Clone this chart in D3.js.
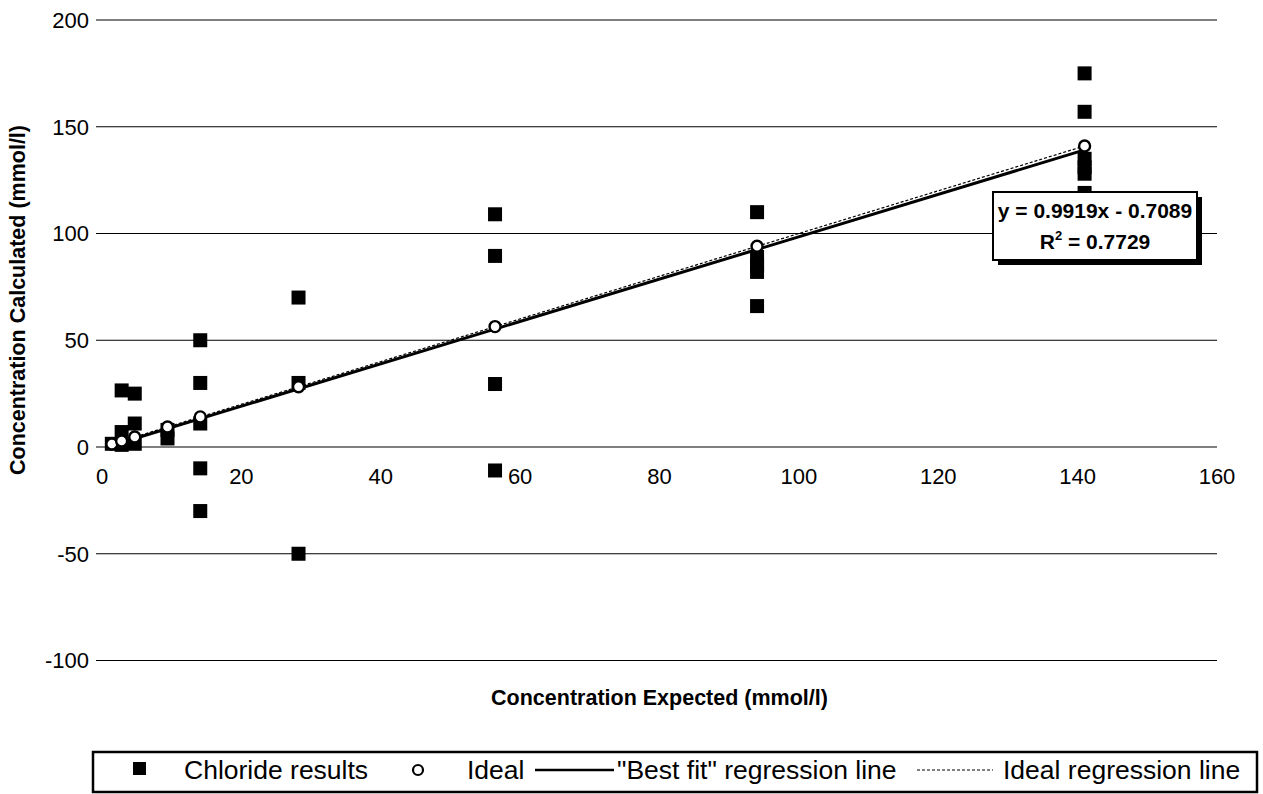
<!DOCTYPE html>
<html>
<head>
<meta charset="utf-8">
<script src="https://cdn.jsdelivr.net/npm/d3@7"></script>
<style>
  body { margin: 0; background: #fff; }
  svg { display: block; }
  text { font-family: "Liberation Sans", Arial, sans-serif; fill: #000; }
</style>
</head>
<body>
<svg id="chart" width="1263" height="794"></svg>
<script>
// Expected chloride concentrations (mmol/l) of the dilution series
const levels = [1.41, 2.82, 4.7, 9.4, 14.1, 28.2, 56.4, 94, 141];

// Measured chloride results: expected (x) and calculated (y)
const chlorideX = [
  1.41,
  2.82, 2.82, 2.82,
  4.7, 4.7, 4.7,
  9.4, 9.4,
  14.1, 14.1, 14.1, 14.1, 14.1,
  28.2, 28.2, 28.2,
  56.4, 56.4, 56.4, 56.4,
  94, 94, 94, 94, 94,
  141, 141, 141, 141, 141, 141
];
const chlorideY = [
  1.5,
  26.5, 7, 1,
  25, 11, 1.5,
  8, 4,
  50, 30, 11, -10, -30,
  70, 30, -50,
  109, 89.5, 29.5, -11,
  110, 89, 85, 82, 66,
  175, 157, 135, 131, 128, 119
];

// Ideal results sit on y = x
const idealX = levels;
const idealY = levels;

// Trendline of the chloride results
const fitSlope = 0.9919;
const fitIntercept = -0.7089;
const rSquared = 0.7729;

const xTicks = [0, 20, 40, 60, 80, 100, 120, 140, 160];
const yTicks = [-100, -50, 0, 50, 100, 150, 200];

const legendLabels = ["Chloride results", "Ideal", "\"Best fit\" regression line", "Ideal regression line"];
const xTitle = "Concentration Expected (mmol/l)";
const yTitle = "Concentration Calculated (mmol/l)";

// ---- layout ----
const svg = d3.select("#chart");
const x = d3.scaleLinear().domain([0, 160]).range([102, 1217]);
const y = d3.scaleLinear().domain([-100, 200]).range([660.5, 20]);

// horizontal gridlines with short outside ticks on the left
svg.append("g")
  .selectAll("line")
  .data(yTicks)
  .join("line")
  .attr("x1", x(0) - 6)
  .attr("x2", x(160))
  .attr("y1", d => y(d))
  .attr("y2", d => y(d))
  .attr("stroke", "#000")
  .attr("stroke-width", 1.2);

// y tick labels
svg.append("g")
  .selectAll("text")
  .data(yTicks)
  .join("text")
  .attr("x", 89)
  .attr("y", d => y(d))
  .attr("dy", "0.36em")
  .attr("text-anchor", "end")
  .attr("font-size", 22)
  .text(d => d);

// x tick labels below the zero line
svg.append("g")
  .selectAll("text")
  .data(xTicks)
  .join("text")
  .attr("x", d => x(d))
  .attr("y", y(0) + 37)
  .attr("text-anchor", "middle")
  .attr("font-size", 22)
  .text(d => d);

// axis titles
svg.append("text")
  .attr("x", (x(0) + x(160)) / 2)
  .attr("y", 705)
  .attr("text-anchor", "middle")
  .attr("font-size", 21.5)
  .attr("font-weight", "bold")
  .text(xTitle);

svg.append("text")
  .attr("transform", `translate(25, 300) rotate(-90)`)
  .attr("text-anchor", "middle")
  .attr("font-size", 21.5)
  .attr("font-weight", "bold")
  .text(yTitle);

// chloride result markers
const sq = 14;
svg.append("g")
  .selectAll("rect")
  .data(chlorideX.map((v, i) => [v, chlorideY[i]]))
  .join("rect")
  .attr("x", d => x(d[0]) - sq / 2)
  .attr("y", d => y(d[1]) - sq / 2)
  .attr("width", sq)
  .attr("height", sq)
  .attr("fill", "#000");

// regression lines over the data range
const xMin = d3.min(levels), xMax = d3.max(levels);
svg.append("line")
  .attr("x1", x(xMin)).attr("y1", y(xMin))
  .attr("x2", x(xMax)).attr("y2", y(xMax))
  .attr("stroke", "#000")
  .attr("stroke-width", 1.2)
  .attr("stroke-dasharray", "3,2");

svg.append("line")
  .attr("x1", x(xMin)).attr("y1", y(fitSlope * xMin + fitIntercept))
  .attr("x2", x(xMax)).attr("y2", y(fitSlope * xMax + fitIntercept))
  .attr("stroke", "#000")
  .attr("stroke-width", 3);

// ideal markers
svg.append("g")
  .selectAll("circle")
  .data(idealX.map((v, i) => [v, idealY[i]]))
  .join("circle")
  .attr("cx", d => x(d[0]))
  .attr("cy", d => y(d[1]))
  .attr("r", 5.5)
  .attr("fill", "#fff")
  .attr("stroke", "#000")
  .attr("stroke-width", 2.4);

// trendline equation box with drop shadow
const eq = svg.append("g");
eq.append("rect").attr("x", 998).attr("y", 197).attr("width", 204).attr("height", 68).attr("fill", "#000");
eq.append("rect").attr("x", 993).attr("y", 192).attr("width", 204).attr("height", 68)
  .attr("fill", "#fff").attr("stroke", "#000").attr("stroke-width", 2);
eq.append("text")
  .attr("x", 1095).attr("y", 218)
  .attr("text-anchor", "middle")
  .attr("font-size", 21).attr("font-weight", "bold")
  .text(`y = ${fitSlope}x - ${Math.abs(fitIntercept)}`);
const r2 = eq.append("text")
  .attr("x", 1095).attr("y", 249)
  .attr("text-anchor", "middle")
  .attr("font-size", 21).attr("font-weight", "bold");
r2.append("tspan").text("R");
r2.append("tspan").attr("font-size", 13).attr("dy", -9).text("2");
r2.append("tspan").attr("dy", 9).text(` = ${rSquared}`);

// legend
const lg = svg.append("g");
lg.append("rect").attr("x", 93).attr("y", 752).attr("width", 1164).attr("height", 40)
  .attr("fill", "#fff").attr("stroke", "#000").attr("stroke-width", 2.5);
const ly = 770, lfs = 26.5;
lg.append("rect").attr("x", 133).attr("y", ly - 8).attr("width", 13).attr("height", 13).attr("fill", "#000");
lg.append("text").attr("x", 184).attr("y", ly + 9).attr("font-size", lfs).text(legendLabels[0]);
lg.append("circle").attr("cx", 418).attr("cy", ly).attr("r", 5).attr("fill", "#fff")
  .attr("stroke", "#000").attr("stroke-width", 2.2);
lg.append("text").attr("x", 467).attr("y", ly + 9).attr("font-size", lfs).text(legendLabels[1]);
lg.append("line").attr("x1", 535).attr("x2", 614).attr("y1", ly).attr("y2", ly)
  .attr("stroke", "#000").attr("stroke-width", 2.5);
lg.append("text").attr("x", 617).attr("y", ly + 9).attr("font-size", lfs).text(legendLabels[2]);
lg.append("line").attr("x1", 917).attr("x2", 993).attr("y1", ly).attr("y2", ly)
  .attr("stroke", "#000").attr("stroke-width", 1.2).attr("stroke-dasharray", "3,2");
lg.append("text").attr("x", 1003).attr("y", ly + 9).attr("font-size", lfs).text(legendLabels[3]);
</script>
</body>
</html>
